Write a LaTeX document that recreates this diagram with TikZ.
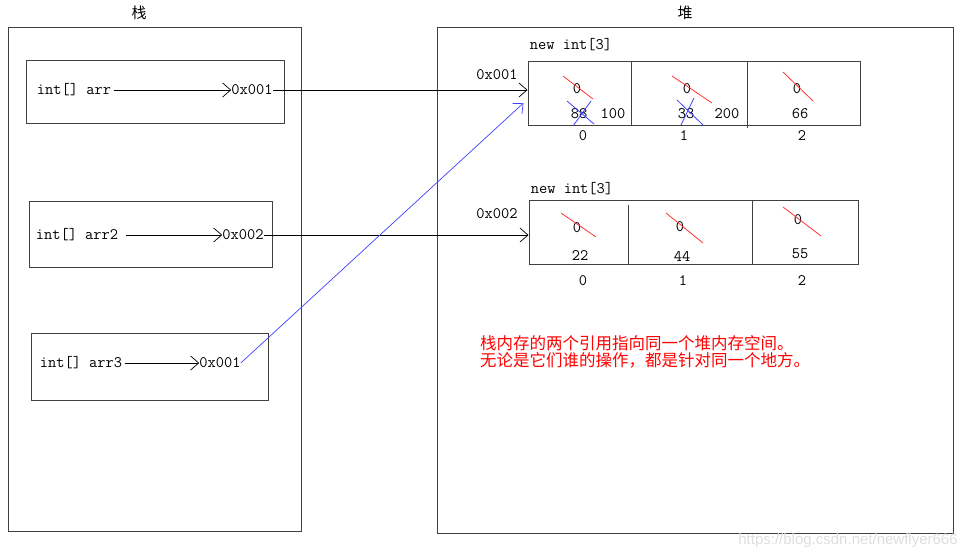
\documentclass[tikz,border=0pt]{standalone}
\usepackage{fontspec}
\newfontfamily\cjk{Noto Sans CJK SC}
\newfontfamily\wmfont{Liberation Sans}
\usetikzlibrary{arrows.meta}

\tikzset{
  frame/.style={draw=black!75, line width=1pt, inner sep=0pt},
  code/.style={font=\ttfamily\fontsize{16}{16}\selectfont, inner sep=0pt},
  ptr/.style={-{Straight Barb[length=8pt,width=14pt]}, line width=0.7pt},
  strike/.style={red!80!white, line width=0.8pt},
  cross/.style={blue!75!white, line width=0.8pt},
}

\begin{document}
\begin{tikzpicture}[x=1pt,y=-1pt]
  \useasboundingbox (0,0) rectangle (977,559);

  % stack
  \node[font=\cjk\fontsize{15}{15}\selectfont] (stackT) at (139,13) {栈};
  \node[frame, minimum width=293, minimum height=503] (stack) at (154.5,279.5) {};
  \node[frame, minimum width=258, minimum height=63] (s1) at (155,92.5) {};
  \node[frame, minimum width=243, minimum height=66] (s2) at (150.5,234) {};
  \node[frame, minimum width=237, minimum height=67] (s3) at (149.5,366.5) {};

  \node[code] (v1) at (74,90) {int[] arr};
  \node[code] (p1) at (252,90) {0x001};
  \node[code] (v2) at (77,235) {int[] arr2};
  \node[code] (p2) at (243,235) {0x002};
  \node[code] (v3) at (81,363) {int[] arr3};
  \node[code] (p3) at (220,363) {0x001};

  \draw[ptr, shorten <=3pt] (v1) -- (p1);
  \draw[ptr, shorten <=8pt] (v2) -- (p2);
  \draw[ptr, shorten <=3pt] (v3) -- (p3);

  % heap
  \node[font=\cjk\fontsize{15}{15}\selectfont] (heapT) at (685,13) {堆};
  \node[frame, minimum width=516, minimum height=505] (heap) at (695,280.5) {};

  \node[code] (n1) at (571,45) {new int[3]};
  \node[code] (h1) at (497,75) {0x001};
  \node[frame, minimum width=332, minimum height=64] (a1) at (694,94) {};
  \draw[frame] (a1.north west) ++(104,0) -- ++(0,64);
  \draw[frame] (a1.north west) ++(220,0) -- ++(0,67);

  \node[code] (z10) at (577,89) {0};
  \node[code] (z11) at (687,89) {0};
  \node[code] (z12) at (797,89) {0};
  \node[code] (w10) at (579,114) {88};
  \node[code] (u10) at (613,114) {100};
  \node[code] (w11) at (686,114) {33};
  \node[code] (u11) at (727,114) {200};
  \node[code] (w12) at (800,114) {66};
  \foreach \i/\x in {0/583,1/684,2/802}
    \node[code] (i1\i) at (\x,136) {\i};

  \draw[strike] (563,76) -- (593,99);
  \draw[strike] (672,76) -- (712,103);
  \draw[strike] (783,72) -- (813,101);
  \draw[cross] (567,101) -- (594,124) (591,101) -- (573,126);
  \draw[cross] (677,100) -- (703,125) (694,98) -- (681,125);

  \node[code] (n2) at (572,189) {new int[3]};
  \node[code] (h2) at (497,214) {0x002};
  \node[frame, minimum width=329, minimum height=64] (a2) at (693.5,232) {};
  \draw[frame] (a2.north west) ++(100,5) -- ++(0,59);
  \draw[frame] (a2.north west) ++(224,0) -- ++(0,64);

  \node[code] (z20) at (577,228) {0};
  \node[code] (z21) at (680,227) {0};
  \node[code] (z22) at (798,220) {0};
  \node[code] (w20) at (580,256) {22};
  \node[code] (w21) at (682,256) {44};
  \node[code] (w22) at (800,254) {55};
  \foreach \i/\x in {0/583,1/683,2/802}
    \node[code] (i2\i) at (\x,281) {\i};

  \draw[strike] (561,213) -- (596,237);
  \draw[strike] (666,213) -- (703,243);
  \draw[strike] (783,207) -- (821,236);

  % references
  \draw[ptr] (p1) -- (p1 -| a1.west);
  \draw[ptr] (p2) -- (p2 -| a2.west);
  \draw[ptr, blue!75!white] (p3.east) -- ([xshift=-4pt,yshift=-9pt]a1.west);

  \node[anchor=west, align=left, text=red, inner sep=0pt,
        font=\cjk\fontsize{16.5}{17}\selectfont] (note) at (480,351.5)
    {栈内存的两个引用指向同一个堆内存空间。\\无论是它们谁的操作，都是针对同一个地方。};

  \node[font=\wmfont\fontsize{15}{15}\selectfont, text=black!13] (wm) at (848,541)
    {https://blog.csdn.net/newflyer666};
\end{tikzpicture}
\end{document}
